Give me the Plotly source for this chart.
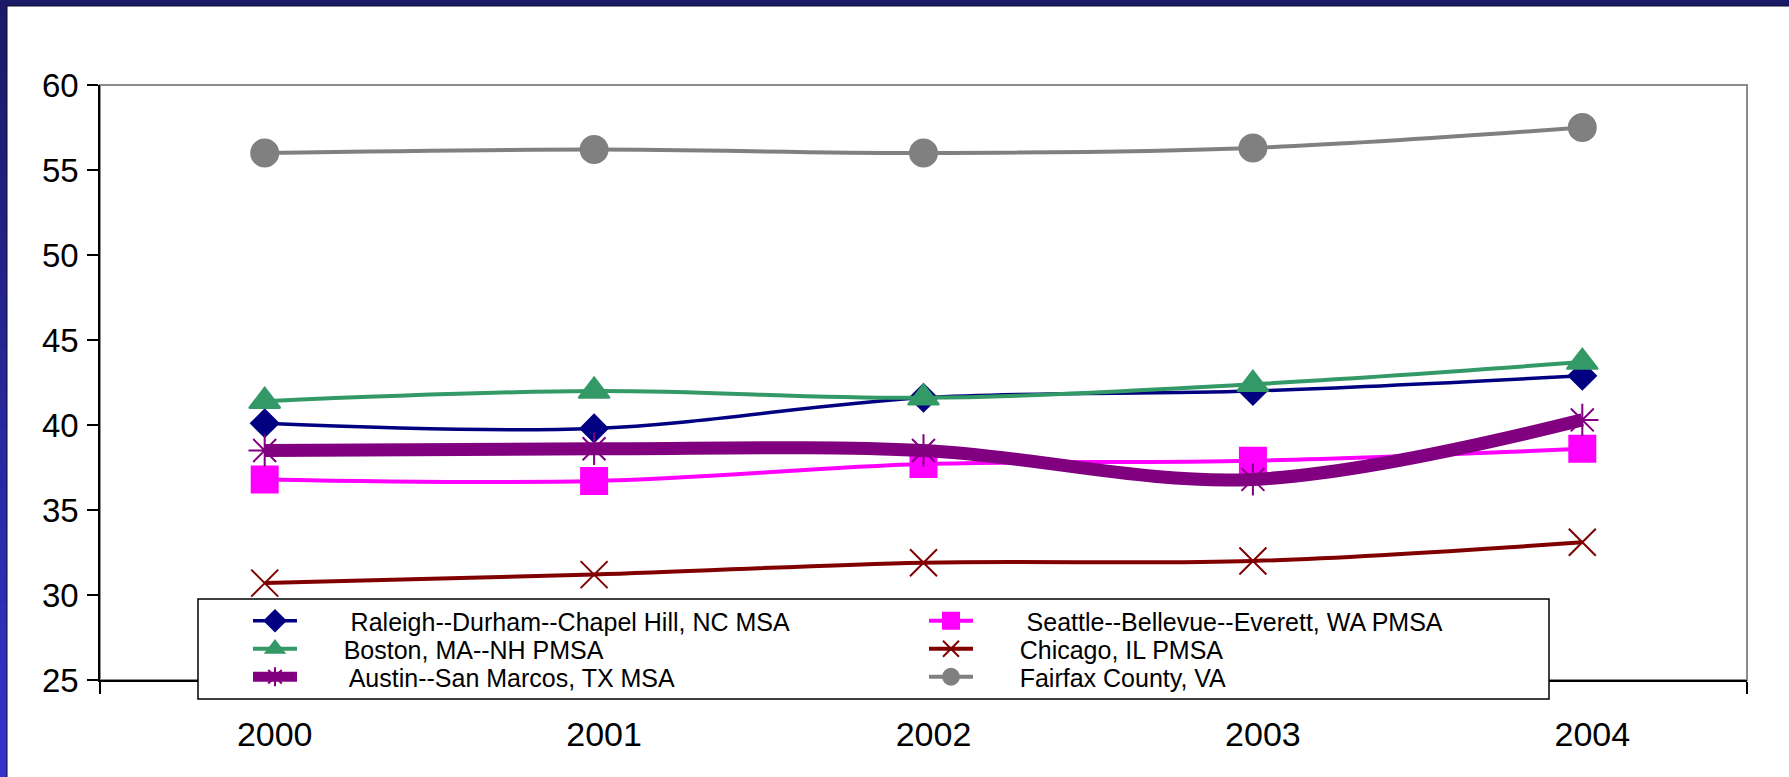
import plotly.graph_objects as go

# ---- data ----
years = ["2000", "2001", "2002", "2003", "2004"]
raleigh = [40.1, 39.8, 41.6, 42.0, 42.9]
boston = [41.4, 42.0, 41.6, 42.4, 43.7]
austin = [38.5, 38.6, 38.5, 36.8, 40.3]
seattle = [36.8, 36.7, 37.7, 37.9, 38.6]
chicago = [30.7, 31.2, 31.9, 32.0, 33.1]
fairfax = [56.0, 56.2, 56.0, 56.3, 57.5]

y_ticks = [25, 30, 35, 40, 45, 50, 55, 60]

# ---- layout geometry (pixels) ----
FW, FH = 1789, 777
ML, MR, MT, MB = 100, 42, 85, 97
PW, PH = FW - ML - MR, FH - MT - MB


def px(x):
    return (x - ML) / PW


def py(y):
    return (MT + PH - y) / PH


FONT = "Liberation Sans, Arial, sans-serif"
PAD = "\u00a0" * 6

series = [
    # name, values, color, line width, symbol, size, legend, rank
    (PAD + "\u00a0Raleigh--Durham--Chapel Hill, NC MSA", raleigh, "#000080", 3.5, "diamond", 21, "legend", 1),
    (PAD + "\u00a0Seattle--Bellevue--Everett, WA PMSA", seattle, "#FF00FF", 4, "square", 26, "legend", 2),
    (PAD + "Chicago, IL PMSA", chicago, "#800000", 4, "x-thin-open", 27, "legend2", 2),
    (PAD + "Fairfax County, VA", fairfax, "#808080", 4, "circle", 27, "legend3", 2),
    (PAD + "Boston, MA--NH PMSA", boston, "#339966", 4, "triangle-up", 27, "legend2", 1),
    (PAD + "\u2009Austin--San Marcos, TX MSA", austin, "#800080", 13, "asterisk-open", 27, "legend3", 1),
]

fig = go.Figure()
for name, vals, col, lw, sym, ms, leg, rank in series:
    fig.add_trace(go.Scatter(
        x=years, y=vals, name=name, mode="lines+markers",
        line=dict(color=col, width=lw, shape="spline", smoothing=1.0),
        marker=dict(symbol=sym, size=ms, color=col,
                    line=dict(color=col, width=2)),
        legend=leg, legendrank=rank,
    ))

shapes = []
# plot-area frame (grey top/right)
shapes.append(dict(type="rect", xref="paper", yref="paper", x0=0, x1=1, y0=0, y1=1,
                   line=dict(color="#8c8c8c", width=2), layer="below"))
# legend box
shapes.append(dict(type="rect", xref="paper", yref="paper",
                   x0=px(198), x1=px(1549), y0=py(699), y1=py(599),
                   line=dict(color="#000000", width=1.5), fillcolor="white", layer="above"))
# slide frame: top band
shapes.append(dict(type="rect", xref="paper", yref="paper",
                   x0=px(0), x1=px(FW), y0=py(6), y1=py(0),
                   line=dict(width=0), fillcolor="#1a1a66", layer="above"))
# left band with vertical gradient
n = 40
c0 = (0x1a, 0x1a, 0x66)
c1 = (0x33, 0x33, 0xcc)
for i in range(n):
    t = i / (n - 1)
    c = tuple(int(round(c0[k] + (c1[k] - c0[k]) * t)) for k in range(3))
    y0 = FH * i / n
    y1 = FH * (i + 1) / n + 1
    shapes.append(dict(type="rect", xref="paper", yref="paper",
                       x0=px(0), x1=px(7), y0=py(y1), y1=py(y0),
                       line=dict(width=0), fillcolor="rgb(%d,%d,%d)" % c, layer="above"))
shapes.append(dict(type="line", xref="paper", yref="paper",
                   x0=px(7), x1=px(FW), y0=py(6), y1=py(6),
                   line=dict(color="#0a0a2a", width=1), layer="above"))
shapes.append(dict(type="line", xref="paper", yref="paper",
                   x0=px(7), x1=px(7), y0=py(FH), y1=py(6),
                   line=dict(color="#0a0a2a", width=1), layer="above"))

legend_common = dict(
    orientation="h", xanchor="left", yanchor="middle",
    bgcolor="rgba(0,0,0,0)", borderwidth=0,
    font=dict(family=FONT, size=25, color="black"),
    itemwidth=44, entrywidth=617, entrywidthmode="pixels",
    traceorder="normal",
)
row_y = [621, 649, 677]

fig.update_layout(
    width=FW, height=FH,
    margin=dict(l=ML, r=MR, t=MT, b=MB, autoexpand=False),
    paper_bgcolor="white", plot_bgcolor="white",
    font=dict(family=FONT, color="black"),
    showlegend=True,
    legend=dict(x=px(248), y=py(row_y[0]), **legend_common),
    legend2=dict(x=px(248), y=py(row_y[1]), **legend_common),
    legend3=dict(x=px(248), y=py(row_y[2]), **legend_common),
    xaxis=dict(
        type="category", range=[-0.5, 4.5], tickson="boundaries",
        ticks="outside", ticklen=12, tickwidth=1.5, tickcolor="black",
        showline=True, linecolor="black", linewidth=1.5,
        showgrid=False, zeroline=False,
        tickfont=dict(family=FONT, size=34, color="black"),
        ticklabelshift=10, ticklabelstandoff=23,
    ),
    yaxis=dict(
        range=[25, 60], tickvals=y_ticks,
        ticks="outside", ticklen=11, tickwidth=1.5, tickcolor="black",
        showline=True, linecolor="black", linewidth=1.5,
        showgrid=False, zeroline=False,
        tickfont=dict(family=FONT, size=33, color="black"),
        ticklabelstandoff=2,
    ),
    shapes=shapes,
)

fig.write_html(
    "out.html",
    config={"displayModeBar": False},
    post_script="document.body.style.margin='0px';document.body.style.overflow='hidden';",
)
